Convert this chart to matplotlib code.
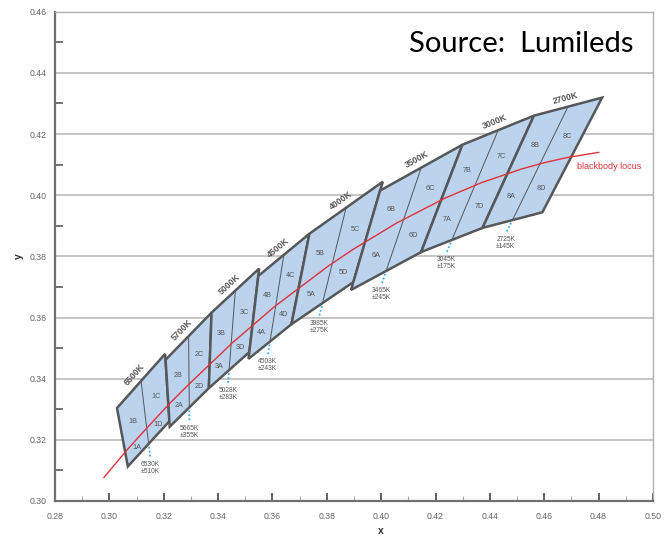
import matplotlib
matplotlib.use("Agg")

import matplotlib.pyplot as plt
import numpy as np
from matplotlib.patches import Polygon
from matplotlib.ticker import FormatStrFormatter, MultipleLocator

plt.rcParams["font.family"] = ["Liberation Sans", "DejaVu Sans"]

# ANSI quadrangles (CIE 1931 x, y), one entry per nominal CCT
cct_names = ["6500K", "5700K", "5000K", "4500K", "4000K", "3500K", "3000K", "2700K"]
bin_numbers = ["1", "2", "3", "4", "5", "6", "7", "8"]
top_left_x = [0.3028, 0.3207, 0.3376, 0.3548, 0.3736, 0.3996, 0.4299, 0.4562]
top_left_y = [0.3304, 0.3462, 0.3616, 0.3736, 0.3874, 0.4015, 0.4165, 0.4260]
top_right_x = [0.3205, 0.3376, 0.3551, 0.3736, 0.4006, 0.4299, 0.4562, 0.4813]
top_right_y = [0.3481, 0.3616, 0.3760, 0.3874, 0.4044, 0.4165, 0.4260, 0.4319]
bottom_right_x = [0.3221, 0.3366, 0.3515, 0.3670, 0.3898, 0.4147, 0.4373, 0.4593]
bottom_right_y = [0.3261, 0.3369, 0.3487, 0.3578, 0.3716, 0.3814, 0.3893, 0.3944]
bottom_left_x = [0.3068, 0.3222, 0.3366, 0.3512, 0.3670, 0.3889, 0.4147, 0.4373]
bottom_left_y = [0.3113, 0.3243, 0.3369, 0.3465, 0.3578, 0.3690, 0.3814, 0.3893]

center_cct = ["6530K", "5665K", "5028K", "4503K", "3985K", "3465K", "3045K", "2725K"]
cct_tolerance = ["±510K", "±355K", "±283K", "±243K", "±275K", "±245K", "±175K", "±145K"]

locus_x = [0.2980, 0.3064, 0.3135, 0.3221, 0.3287, 0.3451, 0.3608, 0.3805,
           0.3897, 0.4053, 0.4234, 0.4369, 0.4518, 0.4599, 0.4683, 0.4800]
locus_y = [0.3077, 0.3166, 0.3236, 0.3318, 0.3377, 0.3516, 0.3636, 0.3768,
           0.3823, 0.3907, 0.3990, 0.4041, 0.4086, 0.4106, 0.4123, 0.4140]

FILL = "#bcd3ee"
EDGE = "#555759"
TEXT_GREY = "#555555"
RED = "#e0323c"
DOTS = "#3aaee6"


def sub_bin_points(top_pt, bottom_pt):
    # label spots above / below the locus along one top-to-bottom segment
    ts = np.linspace(0, 1, 401)
    xs = bottom_pt[0] + ts * (top_pt[0] - bottom_pt[0])
    ys = bottom_pt[1] + ts * (top_pt[1] - bottom_pt[1])
    gap = ys - np.interp(xs, locus_x, locus_y)
    t_cross = ts[np.argmin(np.abs(gap))]
    t_up = t_cross + 0.4 * (1 - t_cross)
    t_low = t_cross * 0.5
    up = bottom_pt + t_up * (top_pt - bottom_pt)
    low = bottom_pt + t_low * (top_pt - bottom_pt)
    return up, low


def draw_block(ax, i):
    tl = np.array([top_left_x[i], top_left_y[i]])
    tr = np.array([top_right_x[i], top_right_y[i]])
    br = np.array([bottom_right_x[i], bottom_right_y[i]])
    bl = np.array([bottom_left_x[i], bottom_left_y[i]])

    ax.add_patch(Polygon([tl, tr, br, bl], closed=True, facecolor=FILL,
                         edgecolor=EDGE, lw=1.8, joinstyle="miter", zorder=2))
    top_mid = (tl + tr) / 2
    bot_mid = (bl + br) / 2
    ax.plot([top_mid[0], bot_mid[0]], [top_mid[1], bot_mid[1]],
            color=EDGE, lw=0.7, zorder=3)

    for u, up_letter, low_letter in [(0.25, "B", "A"), (0.75, "C", "D")]:
        up, low = sub_bin_points(tl + u * (tr - tl), bl + u * (br - bl))
        for pos, letter in [(up, up_letter), (low, low_letter)]:
            ax.text(pos[0], pos[1], bin_numbers[i] + letter, fontsize=5.2,
                    color=TEXT_GREY, ha="center", va="center", zorder=5)

    # nominal CCT along the top edge
    p0 = ax.transData.transform(tl)
    p1 = ax.transData.transform(tr)
    ang = np.arctan2(p1[1] - p0[1], p1[0] - p0[0])
    off = 9 * 0.72
    ax.annotate(cct_names[i], xy=top_mid, xytext=(-np.sin(ang) * off, np.cos(ang) * off),
                textcoords="offset points", rotation=np.degrees(ang),
                rotation_mode="anchor", ha="center", va="center",
                fontsize=6.3, fontweight="bold", color=TEXT_GREY, zorder=5)

    # dotted leader + centre CCT below the bottom edge
    q0 = ax.transData.transform(top_mid)
    q1 = ax.transData.transform(bot_mid)
    d = (q1 - q0) / np.hypot(*(q1 - q0))
    inv = ax.transData.inverted()
    s = inv.transform(q1 + 3 * d)
    e = inv.transform(q1 + 15 * d)
    ax.plot([s[0], e[0]], [s[1], e[1]], color=DOTS, lw=1.3,
            linestyle=(0, (1, 1.2)), zorder=3)
    ax.annotate(center_cct[i] + "\n" + cct_tolerance[i], xy=e, xytext=(0, -1.5),
                textcoords="offset points", ha="center", va="top",
                fontsize=4.8, color=TEXT_GREY, linespacing=1.0, zorder=5)


def main():
    fig = plt.figure(figsize=(6.7, 5.36), dpi=100)
    ax = fig.add_axes([0.0821, 0.0653, 0.8925, 0.9129])
    ax.set_xlim(0.28, 0.50)
    ax.set_ylim(0.30, 0.46)

    ax.xaxis.set_major_locator(MultipleLocator(0.02))
    ax.xaxis.set_minor_locator(MultipleLocator(0.01))
    ax.yaxis.set_major_locator(MultipleLocator(0.02))
    ax.yaxis.set_minor_locator(MultipleLocator(0.01))
    ax.xaxis.set_major_formatter(FormatStrFormatter("%.2f"))
    ax.yaxis.set_major_formatter(FormatStrFormatter("%.2f"))

    ax.set_axisbelow(True)
    ax.grid(axis="y", which="major", color="#b5b5b5", lw=1.1)

    ax.tick_params(axis="y", which="major", length=0, pad=6,
                   labelsize=6.3, labelcolor="#666666")
    ax.tick_params(axis="y", which="minor", direction="in", length=6,
                   width=1.3, color="#666666")
    ax.tick_params(axis="x", which="major", direction="in", length=5.5,
                   width=1.3, color="#555555", pad=8, labelsize=6.3,
                   labelcolor="#666666")
    ax.tick_params(axis="x", which="minor", direction="in", length=3.5,
                   width=0.8, color="#aaaaaa")

    for side in ["top", "right"]:
        ax.spines[side].set_color("#b0b0b0")
        ax.spines[side].set_linewidth(1.0)
    for side in ["left", "bottom"]:
        ax.spines[side].set_color("#707070")
        ax.spines[side].set_linewidth(1.6)

    for i in range(len(cct_names)):
        draw_block(ax, i)

    ax.plot(locus_x, locus_y, color=RED, lw=1.0, zorder=4)
    ax.text(0.4719, 0.4093, "blackbody locus", color=RED, fontsize=6.5,
            ha="left", va="center", zorder=5)

    ax.set_xlabel("x", fontweight="bold", fontsize=7.5, color="#333333")
    ax.xaxis.set_label_coords(0.545, -0.052)
    ax.set_ylabel("y", fontweight="bold", fontsize=7.5, color="#333333")
    ax.yaxis.set_label_coords(-0.052, 0.5)

    fig.text(0.9448, 0.9035, "Source:  Lumileds", fontsize=21, family="Lato",
             ha="right", va="baseline", color="black")

    fig.savefig("out.png", dpi=100)
    plt.close(fig)


if __name__ == "__main__":
    main()
